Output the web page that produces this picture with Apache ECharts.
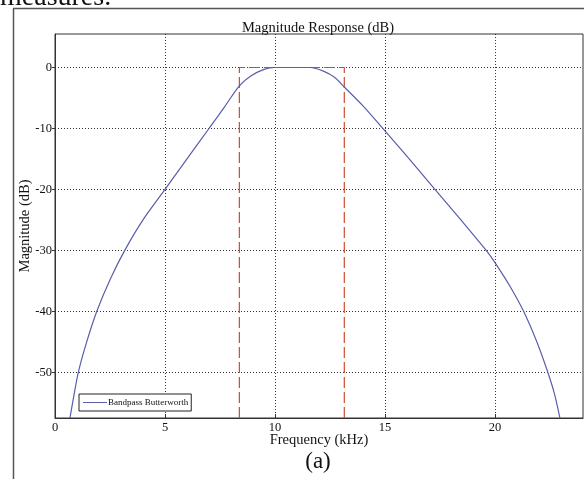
<!DOCTYPE html>
<html>
<head>
<meta charset="utf-8">
<script src="https://cdn.jsdelivr.net/npm/echarts@6/dist/echarts.min.js"></script>
<style>
  html, body { margin: 0; padding: 0; background: #fff; }
  #chart { width: 584px; height: 479px; }
</style>
</head>
<body>
<div id="chart"></div>
<script>
// bandpass response
const freqKHz = [0.68, 0.85, 1.06, 1.4, 1.9, 2.5, 3.17, 4.0, 5.0, 6.0, 7.0, 7.7, 8.38, 8.9, 9.5, 10.0, 11.0, 11.6, 12.2, 12.7, 13.15, 14.0, 14.9, 16.1, 17.27, 18.45, 19.6, 20.0, 20.7, 21.3, 21.9, 22.4, 22.7, 22.95];
const magDb = [-57.5, -54, -50, -45.5, -40, -34.8, -30, -25, -20, -15, -10, -6.5, -3, -1.4, -0.3, 0, 0, 0, -0.6, -1.6, -3.2, -6.3, -10, -15, -20, -25, -30, -32, -36, -40, -45, -50, -53.5, -57.5];

// passband mask (red dashed)
const maskFreq = [8.38, 8.38, 13.15, 13.15];
const maskDb = [-57.5, 0, 0, -57.5];

const xTicks = [0, 5, 10, 15, 20];
const yTicks = [-50, -40, -30, -20, -10, 0];

const serif = 'Liberation Serif';
const chart = echarts.init(document.getElementById('chart'), null, { renderer: 'canvas' });

const option = {
  animation: false,
  backgroundColor: '#fff',
  grid: {
    left: 55, right: 1, top: 34, bottom: 61,
    show: true, borderColor: '#333', borderWidth: 1, backgroundColor: '#fff'
  },
  legend: {
    left: 79, top: 394,
    orient: 'vertical',
    data: ['Bandpass Butterworth'],
    backgroundColor: '#fff',
    borderColor: '#222', borderWidth: 1, borderRadius: 0,
    padding: [4, 3, 4, 4],
    itemWidth: 24, itemHeight: 10, itemGap: 2,
    icon: 'path://M0,5 L24,5 L24,6 L0,6 Z',
    textStyle: { fontFamily: serif, fontSize: 9, color: '#111', padding: [0, 0, 0, -4] }
  },
  xAxis: {
    type: 'value',
    min: 0, max: 24, interval: 5,
    name: 'Frequency (kHz)',
    nameLocation: 'middle',
    nameGap: 15,
    nameMoveOverlap: false,
    nameTextStyle: { fontFamily: serif, fontSize: 14.5, color: '#111' },
    axisLine: { show: true, onZero: false, lineStyle: { color: '#333' } },
    axisTick: { show: true, inside: true, length: 4, lineStyle: { color: '#333' }, customValues: xTicks },
    axisLabel: { fontFamily: serif, fontSize: 12.5, color: '#111', margin: 3, customValues: xTicks },
    splitLine: { show: true, lineStyle: { color: '#333', type: [1, 2], width: 1 } }
  },
  yAxis: {
    type: 'value',
    min: -57.5, max: 5.5,
    name: 'Magnitude (dB)',
    nameLocation: 'middle',
    nameGap: 22,
    nameRotate: 90,
    nameMoveOverlap: false,
    nameTextStyle: { fontFamily: serif, fontSize: 14.5, color: '#111' },
    axisLine: { show: true, lineStyle: { color: '#333' } },
    axisTick: { show: true, inside: false, length: 3, lineStyle: { color: '#333' }, customValues: yTicks },
    axisLabel: { fontFamily: serif, fontSize: 12.5, color: '#111', margin: 3, customValues: yTicks },
    splitLine: { show: true, lineStyle: { color: '#333', type: [1, 2], width: 1 } }
  },
  graphic: [
    { type: 'line', shape: { x1: 13.5, y1: 8.5, x2: 13.5, y2: 479 }, style: { stroke: '#555', lineWidth: 1.5 } },
    { type: 'line', shape: { x1: 13, y1: 8.5, x2: 584, y2: 8.5 }, style: { stroke: '#555', lineWidth: 1.5 } },
    { type: 'text', x: 0, y: 12, style: { text: 'measures.', font: '28px "Liberation Serif"', fill: '#111', verticalAlign: 'bottom' } },
    { type: 'text', x: 318, y: 28, style: { text: 'Magnitude Response (dB)', font: '14.5px "Liberation Serif"', fill: '#111', align: 'center', verticalAlign: 'middle' } },
    { type: 'text', x: 318, y: 462, style: { text: '(a)', font: '23px "Liberation Serif"', fill: '#111', align: 'center', verticalAlign: 'middle' } }
  ],
  series: [
    {
      name: 'Bandpass Butterworth',
      type: 'line',
      data: freqKHz.map((f, i) => [f, magDb[i]]),
      smooth: 0.3,
      showSymbol: false,
      clip: true,
      lineStyle: { color: '#5a5ea8', width: 1.2 },
      itemStyle: { color: '#5a5ea8' },
      z: 3
    },
    {
      name: 'mask',
      type: 'line',
      data: maskFreq.map((f, i) => [f, maskDb[i]]),
      showSymbol: false,
      lineStyle: { color: '#cc4b33', width: 1.2, type: [11, 4] },
      itemStyle: { color: '#cc4b33' },
      z: 2
    }
  ]
};

chart.setOption(option);
</script>
</body>
</html>
